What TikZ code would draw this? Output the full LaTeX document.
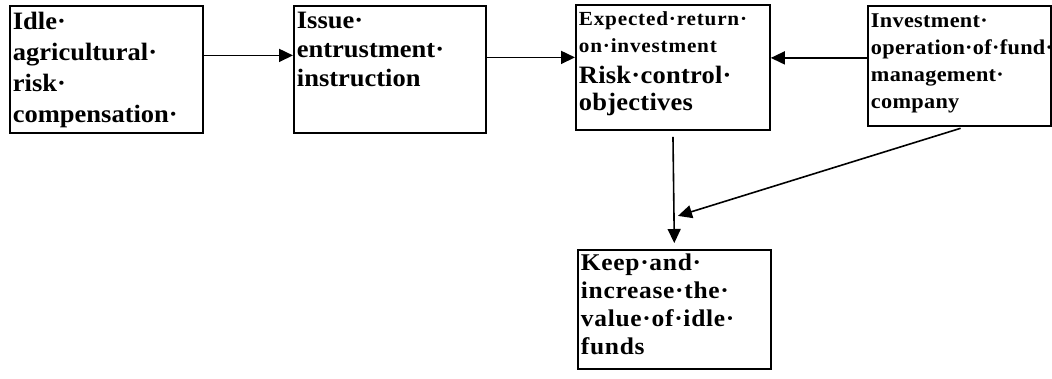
\documentclass[tikz,border=0pt]{standalone}
\usepackage{fontspec}
\setmainfont{Liberation Serif}[FakeStretch=1.06]
\usetikzlibrary{arrows.meta, calc}
\tikzset{
  blk/.style={draw, line width=1.8pt, anchor=north west, align=left, inner xsep=3pt, inner ysep=0pt, font=\bfseries},
  arr/.style={-{Triangle[length=14pt,width=13pt]}, line width=1.6pt},
}

\begin{document}
\begin{tikzpicture}[x=1pt, y=-1pt]
  \useasboundingbox (0,0) rectangle (1052,378);
  \node[blk, text width=187pt, text height=24pt, text depth=103pt,
        font=\bfseries\fontsize{25}{31}\selectfont] (idle) at (9,5)
    {Idle·\\agricultural·\\risk·\\compensation·};
  \node[blk, text width=186pt, text height=23pt, text depth=104pt,
        font=\bfseries\fontsize{25}{29}\selectfont] (issue) at (293,5)
    {Issue·\\entrustment·\\instruction};
  \node[blk, text width=188pt, text height=21pt, text depth=104pt,
        font=\bfseries\fontsize{20}{27}\selectfont\addfontfeatures{LetterSpace=4}] (goal) at (575,4)
    {Expected·return·\\on·investment\\[4pt]
     \fontsize{25}{27}\selectfont\addfontfeatures{LetterSpace=1}Risk·control·\\objectives};
  \node[blk, text width=177pt, text height=22pt, text depth=98pt,
        font=\bfseries\fontsize{21}{27}\selectfont\addfontfeatures{LetterSpace=1.5}] (invest) at (867,5)
    {Investment·\\operation·of·fund·\\management·\\company};
  \node[blk, text width=187pt, text height=21pt, text depth=98pt,
        font=\bfseries\fontsize{24}{28}\selectfont\addfontfeatures{LetterSpace=3}] (keep) at (577,249)
    {Keep·and·\\increase·the·\\value·of·idle·\\funds};
  \coordinate (meet) at ([xshift=4pt]$(goal.south)!0.72!(keep.north)$);
  \draw[arr] ([yshift=14pt]idle.east) -- ([yshift=14pt]idle.east -| issue.west);
  \draw[arr] ([yshift=12pt]issue.east) -- ([yshift=12pt]issue.east -| goal.west);
  \draw[arr] ([yshift=8pt]invest.west) -- ([yshift=8pt]invest.west -| goal.east);
  \draw[arr, shorten <=6pt, shorten >=6pt] (goal.south) -- (keep.north);
  \draw[arr, shorten <=5pt] ([xshift=6pt]invest.south) -- (meet);
\end{tikzpicture}
\end{document}
